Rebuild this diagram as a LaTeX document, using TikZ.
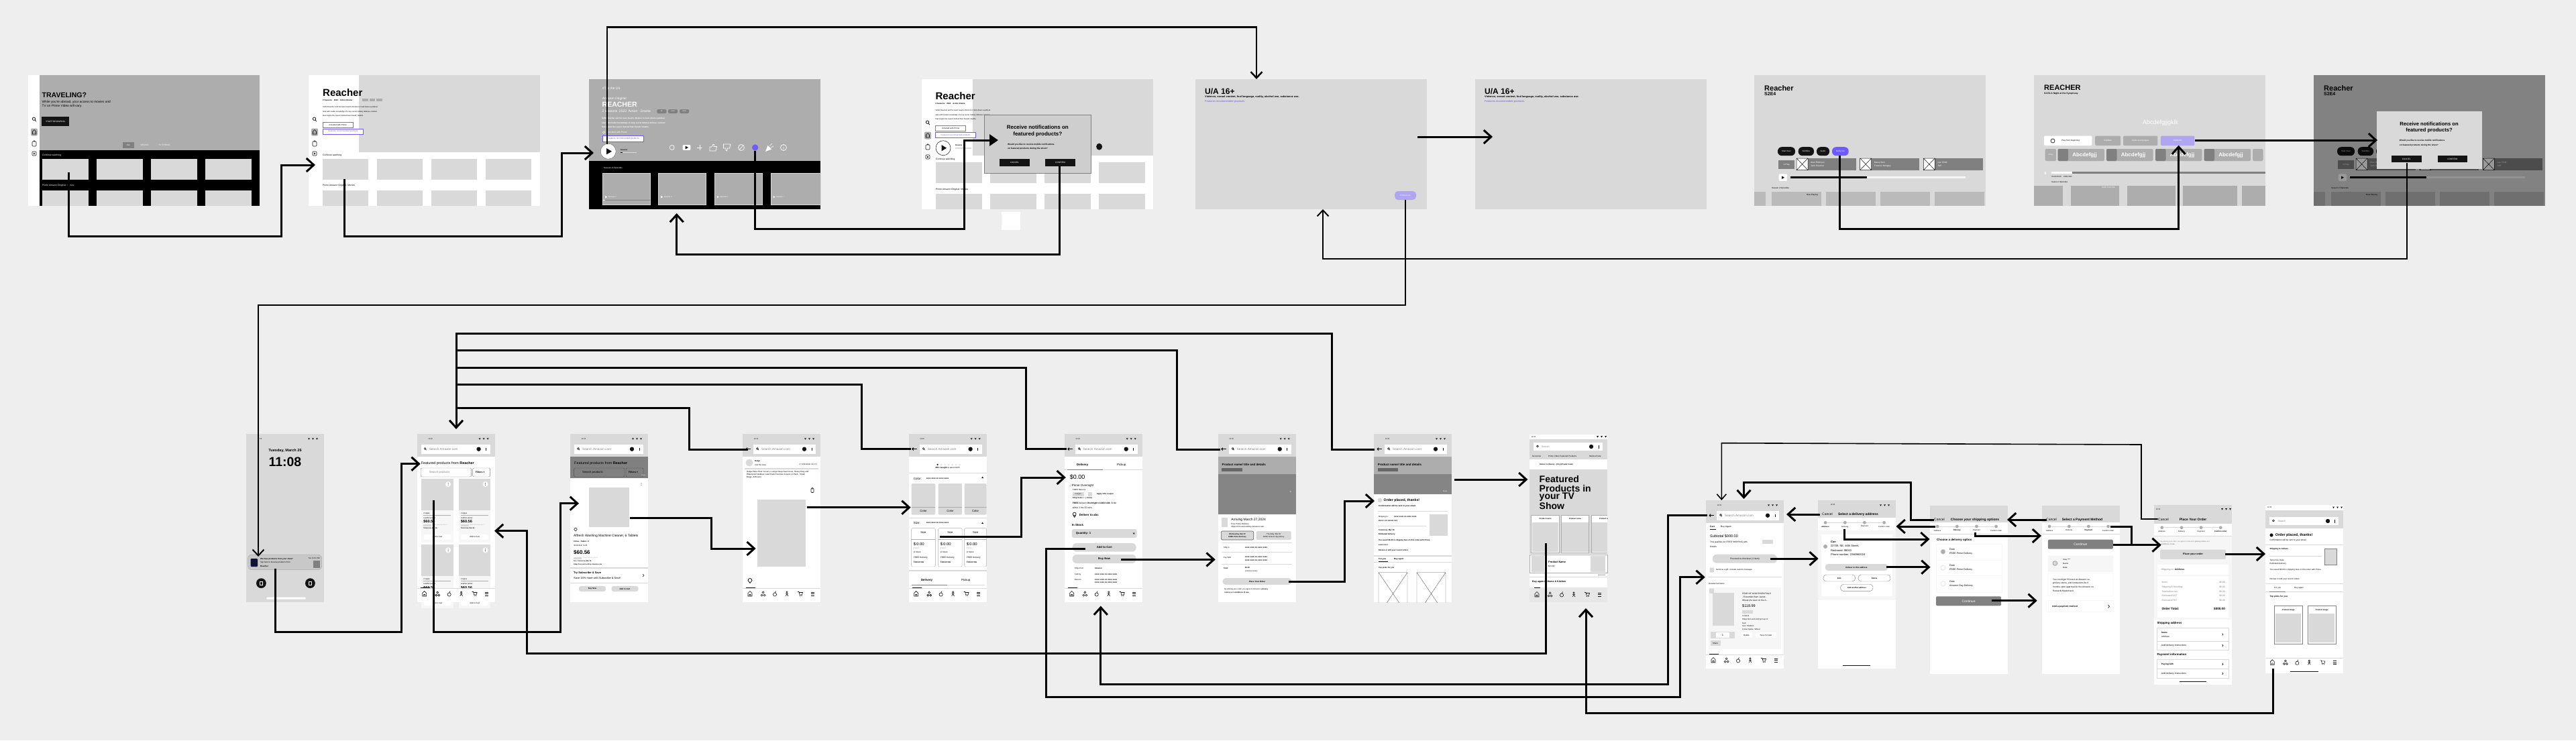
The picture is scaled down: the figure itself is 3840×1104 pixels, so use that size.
\documentclass[tikz,border=0pt]{standalone}
\usepackage{fontspec}
\setmainfont{Liberation Sans}
\newfontfamily\symfont{DejaVu Sans}
\usetikzlibrary{arrows.meta}
\definecolor{pagebg}{HTML}{EEEEEE}
\definecolor{pale}{HTML}{D9D9D9}
\definecolor{mid}{HTML}{ADADAD}
\definecolor{dim}{HTML}{808080}
\definecolor{ink}{HTML}{141414}
\definecolor{faint}{HTML}{F6F6F6}
\definecolor{violet}{HTML}{6E5BFF}
\definecolor{lilac}{HTML}{AFA5F0}
\tikzset{
  flow/.style={line width=3pt,-{Straight Barb[length=11pt,width=20pt]}},
  thinflow/.style={line width=2pt,-{Straight Barb[length=9pt,width=17pt]}},
  wedgeflow/.style={line width=3pt,-{Triangle[length=13pt,width=17pt]}},
  wire/.style={line width=3pt},
  rule/.style={draw=pale,line width=1pt},
  icon/.style={draw=ink,line width=.6pt,fill=none},
  tl/.style={anchor=west,inner sep=0pt,font=\fontsize{#1}{#1}\selectfont},
  tlb/.style={anchor=west,inner sep=0pt,font=\bfseries\fontsize{#1}{#1}\selectfont},
  tc/.style={inner sep=0pt,font=\fontsize{#1}{#1}\selectfont},
  tcb/.style={inner sep=0pt,font=\bfseries\fontsize{#1}{#1}\selectfont},
  tr/.style={anchor=east,inner sep=0pt,font=\fontsize{#1}{#1}\selectfont},
  btn/.style={inner sep=0pt,fill=pale,rounded corners=3pt,font=\bfseries\fontsize{#1}{#1}\selectfont},
  darkbtn/.style={inner sep=0pt,fill=ink,text=white,minimum height=11pt,minimum width=45pt,font=\fontsize{3.2}{3.2}\selectfont},
  pics/statusmarks/.style={code={
    \foreach \x in {0,6,12} \fill[ink] (\x,-1.2) -- (\x+3,-1.2) -- (\x+1.5,1.2) -- cycle;
  }},
  pics/phonetop/.style={code={
    \fill[pale] (0,0) rectangle (116,34);
    \node[tc=2.6] (-time) at (20,7.5) {12:30};
    \pic (-st) at (92,7.5) {statusmarks};
    \fill[white] (#1,15.5) rectangle (109,30);
    \draw[icon] (#1+6,22) circle (1.4pt) (#1+7,23) -- (#1+8,24.2);
    \node[tl=4.6,text=dim] (-find) at (#1+12,22.7) {Search Amazon.com};
    \fill[ink] (92,22.7) ellipse (3.2pt and 3.2pt);
    \draw[icon] (103,20.5) -- (103,25);
  }},
  pics/phoneback/.style={code={
    \pic (-top) {phonetop=16};
    \draw[line width=.9pt,-{Straight Barb[length=2pt,width=4pt]}] (12,22.6) -- (4.5,22.6);
  }},
  pics/tabicons/.style={code={
    \draw[icon] (8,242) -- (8,237.5) -- (11,234.5) -- (14,237.5) -- (14,242) -- cycle (10,242) -- (10,239.5) -- (12,239.5) -- (12,242);
    \foreach \x/\y in {28.6/240.6,32.6/240.6,30.6/236.4} \draw[icon] (\x,\y) circle (1.5pt);
    \draw[icon] (48,239.5) circle (2.6pt) (48,236.9) -- (49.5,234.5);
    \draw[icon] (66,236) circle (1.2pt) (66,237.2) -- (66,239) -- (64,242) (66,239) -- (68,242) (64,238.4) -- (68,238.4);
    \draw[icon] (82,235.5) -- (84,235.5) -- (85,240) -- (88.5,240) -- (89.5,236.5) -- (84.3,236.5);
    \fill[ink] (85.5,241.5) circle (.6pt) (88,241.5) circle (.6pt);
    \foreach \y in {236,238.7,241.4} \draw[icon] (101.5,\y) -- (106.5,\y);
  }},
  pics/tabbar/.style={code={
    \fill[white] (0,230) rectangle (116,251);
    \draw[pale,line width=.4pt] (0,230) -- (116,230);
    \fill[ink] (5,229.3) rectangle (19,230.3);
    \pic (-ic) {tabicons};
  }},
  pics/sidebar/.style={code={
    \draw[icon,line width=.8pt] (-.5,-.8) circle (2.2pt) (1,.8) -- (2.8,3.2);
    \fill[mid,rounded corners=2pt] (-5,13.5) rectangle (5,24.5);
    \draw[icon] (-2.5,22) -- (-2.5,18) -- (0,15.5) -- (2.5,18) -- (2.5,22) -- cycle;
    \draw[icon,rounded corners=1pt] (-3,33) rectangle (3,40) (-1.2,33) -- (0,31) -- (1.2,33);
    \draw[icon,rounded corners=1pt] (-3,48) rectangle (3,54);
    \fill[ink] (-1,49.5) -- (1.5,51) -- (-1,52.5) -- cycle;
  }},
  pics/showinfo/.style={code={
    \node[tlb=15] (-title) at (0,0) {Reacher};
    \node[tlb=2.8] (-meta) at (0,11.4) {2 Seasons\quad 2023\quad Action Drama};
    \node[tl=2.7] (-d1) at (0,22.2) {S2E4 Reacher and his team head to Boston to track down a political};
    \node[tl=2.7] (-d2) at (0,28.6) {aide with insider knowledge of a top secret military defense contract};
    \node[tl=2.7] (-d3) at (0,34.8) {that maybe the reason behind their friends' deaths.};
    \node[tl=3,draw=dim,line width=.4pt,fill=white,minimum width=45pt,minimum height=8pt,inner xsep=1.5pt] (-prime) at (0,48.4) {Included with Prime};
    \node[tl=3,draw=violet,line width=.4pt,fill=white,text=violet,minimum width=60pt,minimum height=8pt,inner xsep=1.5pt] (-feat) at (0,58.4) {Features recommended products};
  }},
  pics/stepper/.style={code={
    \draw[pale,line width=.5pt] (11,0) -- (98.6,0);
    \foreach \x/\l [count=\i] in {11/Address,40.3/Delivery,69.4/Payment,98.6/Confirm order} {
      \fill[mid] (\x,0) circle (2.4pt);
      \node[tc=2.8] (-l\i) at (\x,6) {\ifnum\i=#1\bfseries\fi \l};
    }
  }},
  pics/castview/.style={code={
    \fill[pale] (0,0) rectangle (345,195);
    \node[tlb=11] (-title) at (15,19.7) {Reacher};
    \node[tlb=7] (-ep) at (15,28) {S2E4};
    \foreach \a/\b/\l/\c [count=\i] in {35/61/Start Over/ink,65.7/89/Subtitles/ink,93/112/Audio/ink,116/140.7/Notify me/violet}
      \node[tc=3,fill=\c,text=white,rounded corners=6pt,minimum height=13pt,minimum width=\b pt-\a pt] (-c\i) at ({(\a+\b)/2},113.7) {\l};
    \node[tc=3.2,fill=dim,text=white,minimum width=24pt,minimum height=13pt] (-xplay) at (48.2,133.2) {X-Play};
    \foreach \a/\l/\m [count=\i] in {63/Alan Ritchson/Jack Reacher,157.7/Maria Sten/Frances Neagley,252.3/Lee Child/Self} {
      \fill[dim] (\a,124) rectangle (\a+88.7,141.7);
      \fill[white] (\a,124) rectangle (\a+17,141.7);
      \draw[ink,line width=.5pt] (\a,124) rectangle (\a+17,141.7) (\a,124) -- (\a+17,141.7) (\a,141.7) -- (\a+17,124);
      \node[tl=3.3,text=white] (-a\i) at (\a+21,130) {\l};
      \node[tl=3.3,text=white] (-b\i) at (\a+21,135.7) {\m};
    }
    \fill[white,rounded corners=2pt] (36.7,147.3) rectangle (49,158);
    \fill[ink] (41,150.5) -- (45,152.7) -- (41,155) -- cycle;
    \fill[faint] (54,150.7) rectangle (315,153.7);
    \fill[black] (54,150.7) rectangle (168,153.7);
    \node[tl=3] (-eps) at (26,168.3) {Season 2 Episodes};
    \foreach \a/\b in {0/17,26/100,107/180.7,188/261.7,269/343} \fill[mid!70!pale] (\a,174) rectangle (\b,194.7);
    \node[tr=3] (-now) at (95,179) {Now Playing};
  }}
}
\begin{document}
\begin{tikzpicture}[x=1pt,y=-1pt]
\useasboundingbox (0,0) rectangle (3840,1104);
\fill[pagebg] (0,0) rectangle (3840,1104);

% tv screens, top row
\fill[white] (42,112) rectangle (386.5,307);
\fill[mid] (59,112) rectangle (386.5,224);
\fill[black] (59,224) rectangle (386.5,307);
\foreach \x in {63,143.5,224.5,305.5} {
  \fill[pale] (\x,237) rectangle (\x+69,268);
  \fill[pale] (\x,284) rectangle (\x+69,307);
}
\pic (s1side) at (51,178) {sidebar};
\node[tlb=10.5] (s1title) at (62.5,142) {TRAVELING?};
\node[tl=4.8] (s1a) at (62.5,152.3) {While you're abroad, your access to movies and};
\node[tl=4.8] (s1b) at (62.5,158.7) {TV on Prime Video will vary.};
\node[tc=3.2,fill=ink,text=white,minimum width=40.5pt,minimum height=13.7pt] (s1start) at (82.7,181) {START BROWSING};
\node[tc=3.2,fill=dim,text=white,minimum width=17pt,minimum height=9.5pt] (s1all) at (191.5,216.3) {ALL};
\node[tc=3.2,text=white] (s1mov) at (215.6,216.3) {MOVIES};
\node[tc=3.2,text=white] (s1tv) at (245,216.3) {TV SHOWS};
\node[tl=3.4,text=white] (s1cont) at (63,232) {Continue watching};
\node[tl=3.4,text=white] (s1orig) at (63,277) {Prime Amazon Original: Series};

\fill[white] (460,112) rectangle (805,307);
\fill[pale] (535,112) rectangle (805,226.7);
\foreach \x in {481,562,643,724} {
  \fill[pale] (\x,237) rectangle (\x+68,268);
  \fill[pale] (\x,284) rectangle (\x+68,307);
}
\pic (s2side) at (469,178) {sidebar};
\pic (s2info) at (481,137.7) {showinfo};
\foreach \x in {540,550.5,561} \fill[mid] (\x,146.8) rectangle (\x+8.5,151.2);
\node[tl=3.4] (s2cont) at (481,232) {Continue watching};
\node[tl=3.4] (s2orig) at (481,277) {Prime Amazon Original: Movies};

\fill[mid] (878,118) rectangle (1223,240);
\fill[black] (878,240) rectangle (1223,312);
\node[tl=4.8,text=white] (s3rank) at (898,132) {\#7 in the US};
\node[tl=4.8,text=white] (s3orig) at (898,147) {Amazon Original};
\node[tlb=10.5,text=white] (s3title) at (897.5,156) {REACHER};
\node[tl=5,text=white] (s3meta) at (897.5,166) {2 seasons\enspace 2023\enspace Action - Drama};
\foreach \x/\l [count=\i] in {986.3/4K/UHD,1003.2/UHD,1020/HDR}
  \node[tc=2.4,fill=dim,text=white,rounded corners=1.5pt,minimum width=14pt,minimum height=6pt] (s3chip\i) at (\x,166) {\l};
\node[tl=2.9,text=white,font=\bfseries\fontsize{2.9}{2.9}\selectfont] (s3d1) at (897,176.7) {S2E4 Reacher and his team head to Boston to track down a political};
\node[tl=2.9,text=white,font=\bfseries\fontsize{2.9}{2.9}\selectfont] (s3d2) at (897,183.3) {aide with insider knowledge of a top secret military defense contract};
\node[tl=2.9,text=white,font=\bfseries\fontsize{2.9}{2.9}\selectfont] (s3d3) at (897,189.7) {that maybe the reason behind their friends' deaths.};
\draw[white,line width=.5pt] (900,197.3) circle (1.7pt);
\node[tl=3.4,text=white] (s3prime) at (905,197.3) {Included with Prime};
\node[tl=3.2,draw=violet,line width=.4pt,fill=white,text=violet,minimum width=60.7pt,minimum height=8.7pt,inner xsep=1.5pt] (s3feat) at (898.3,206.7) {Features recommended products};
\fill[white] (906.7,225.7) circle (11.5pt);
\draw[mid!70!black,line width=.5pt] (906.7,225.7) circle (11.5pt);
\fill[ink] (904,221) -- (912,225.7) -- (904,230.4) -- cycle;
\node[tlb=2.6] (s3res) at (925,223.3) {Resume};
\fill[pale] (925,226.5) rectangle (949,228);
\fill[ink] (925,226.5) rectangle (928,228);
\draw[white,line width=.7pt] (1001.7,220) circle (3.5pt);
\draw[white,line width=.7pt,fill=white,rounded corners=1pt] (1018,216.5) rectangle (1029,223.5);
\fill[ink] (1021.5,217.5) -- (1026,220) -- (1021.5,222.5) -- cycle;
\draw[white,line width=.5pt] (1039,220) -- (1047,220) (1043,216) -- (1043,224);
\draw[white,line width=.7pt] (1058,219) -- (1061,219) -- (1063,215) -- (1064.5,215.5) -- (1064,218.5) -- (1068.5,218.5) -- (1067,225) -- (1058,225) -- cycle;
\draw[white,line width=.7pt] (1078.5,215) -- (1089,215) -- (1087.5,221) -- (1084.5,221) -- (1083.5,225) -- (1082,224) -- (1082,221) -- (1078.5,221) -- cycle;
\draw[white,line width=.7pt] (1105,220) circle (4.5pt) (1102.5,222.5) -- (1107.5,217.5);
\fill[violet] (1125.7,220) circle (4.7pt);
\fill[white] (1141,226) -- (1144.5,217) -- (1150,222.5) -- cycle;
\draw[white,line width=.6pt] (1147,218) -- (1151,214) (1149,220) -- (1153,218);
\draw[white,line width=.7pt] (1168,220) circle (4.5pt) (1168,219) -- (1168,222.5);
\fill[white] (1168,217.5) circle (.5pt);
\node[tl=3,text=white] (s3eps) at (900,250.7) {Seasons \& Episodes};
\foreach \x/\w/\l [count=\i] in {898.7/70.6/4,981.7/70.6/5,1065.3/70.7/6,1149/74/7} {
  \draw[pale,fill=mid,line width=.5pt] (\x,258.7) rectangle (\x+\w,305);
  \fill[white] (\x+3.5,292) -- (\x+6.5,293.7) -- (\x+3.5,295.4) -- cycle;
  \node[tl=2.6,text=white] (s3ep\i) at (\x+8,293.7) {Episode \l};
}
\fill[dim] (898.7,297.7) rectangle (969.3,299);
\fill[white] (898.7,297.7) rectangle (902,299);

\fill[white] (1374,118) rectangle (1719,312);
\fill[pale] (1450,118) rectangle (1719,231.7);
\foreach \x in {1395,1476,1557,1638} {
  \fill[pale] (\x,242.3) rectangle (\x+69,273.3);
  \fill[pale] (\x,289) rectangle (\x+69,312);
}
\pic (s4side) at (1383,183) {sidebar};
\pic (s4info) at (1394.4,143) {showinfo};
\draw[ink,line width=.5pt,fill=white] (1406,220.7) ellipse (11pt and 11pt);
\fill[ink] (1403.5,216) -- (1411,220.7) -- (1403.5,225.4) -- cycle;
\node[tlb=2.6] (s4res) at (1424,217) {Resume};
\fill[pale] (1424,220) rectangle (1448,221.5);
\node[tl=3.4] (s4cont) at (1395,237.3) {Continue watching};
\node[tl=3.4] (s4orig) at (1395,282.7) {Prime Amazon Original: Movies};
\fill[ink] (1638.6,218.7) ellipse (4.5pt and 5pt);
\fill[white] (1493,316) rectangle (1521,342.7);
\draw[dim,fill=pale!95!black,line width=.6pt] (1467.7,171.3) rectangle (1626,258.3);
\node[tcb=8] (s4ask) at (1546.8,190) {Receive notifications on};
\node[tcb=8] (s4ask2) at (1546.8,200.3) {featured products?};
\node[tlb=3.2] (s4q) at (1502,215.7) {Would you like to receive mobile notifications};
\node[tlb=3.2] (s4q2) at (1502,222) {on featured products during the show?};
\node[darkbtn] (s4no) at (1512.5,242.7) {CANCEL};
\node[darkbtn] (s4ok) at (1580.5,242.7) {CONFIRM};

\fill[pale] (1781.5,118) rectangle (2126.5,312);
\fill[pale] (2198.6,118) rectangle (2543.6,312);
\foreach \x/\n in {1796/s5,2213/s6} {
  \node[tlb=12] (\n age) at (\x,136) {U/A 16+};
  \node[tlb=3.9] (\n warn) at (\x,144.7) {Violence, sexual content, foul language, nudity, alcohol use, substance use.};
  \node[tl=4,text=violet] (\n feat) at (\x,151) {Features recommended products.};
}
\node[tc=2.8,fill=lilac,text=white,rounded corners=5pt,minimum width=32pt,minimum height=13pt] (s5pill) at (2095,291.5) {Product icon};

\pic (s7) at (2615,112) {castview};

\fill[pale] (3032,112) rectangle (3377,307);
\node[tlb=11] (s8title) at (3047,131) {REACHER};
\node[tlb=3.4] (s8ep) at (3047,139.3) {S2 E4 A Night at the Symphony};
\node[tc=9,text=white] (s8cap) at (3220.5,183) {Abcdefgjjgklk};
\node[tc=3,fill=white,rounded corners=2pt,minimum width=71.5pt,minimum height=14.5pt,text depth=0pt] (s8play) at (3082.7,209.8) {\hspace{8pt}Play from beginning};
\draw[ink,line width=.7pt] (3060,210) circle (3pt);
\node[tc=3,fill=mid,text=white,rounded corners=2pt,minimum width=38pt,minimum height=14.5pt] (s8sub) at (3142.2,209.8) {Subtitles};
\node[tc=3,fill=mid,text=white,rounded corners=2pt,minimum width=51.4pt,minimum height=14.5pt] (s8aud) at (3190.7,209.8) {Audio \& languages};
\node[tc=3,fill=lilac,text=white,rounded corners=2pt,minimum width=50.5pt,minimum height=14.5pt] (s8note) at (3246.2,209.8) {Notify Me};
\node[tc=2.6,fill=mid,text=white,rounded corners=2pt,minimum width=16.4pt,minimum height=18pt] (s8x) at (3056.8,231) {X-Play};
\foreach \x [count=\i] in {3067.5,3140,3213,3285.5} {
  \fill[mid,rounded corners=2pt] (\x,222) rectangle (\x+69.5,240);
  \fill[dim,rounded corners=2pt] (\x,222) rectangle (\x+15.5,240);
  \node[tcb=8,text=white] (s8c\i) at (\x+40,231) {Abcdefgjj};
}
\fill[mid,rounded corners=2pt] (3358,222) rectangle (3373.5,240);
\fill[white] (3047.5,256) rectangle (3048.4,260) (3049.2,256) rectangle (3050.1,260);
\fill[dim] (3058.4,256.3) rectangle (3377,258.5);
\fill[white] (3058.4,256.3) rectangle (3089,258.5);
\node[tl=2.8] (s8time) at (3058,263) {03:24/45:46\quad UHD HDR};
\node[tl=2.8] (s8eps) at (3058,271.3) {Season 2 Episodes};
\foreach \a/\b in {3032/3075,3087/3159,3171/3243,3254/3335,3342/3377} \fill[mid] (\a,276.7) rectangle (\b,307);
\node[tr=2.8,text=white] (s8now) at (3153,279.8) {NOW PLAYING};

\pic (s9) at (3449,112) {castview};
\fill[black,opacity=.4] (3449,112) rectangle (3794,307);
\fill[pale] (3543,166) rectangle (3700,252.3);
\node[tcb=7.6] (s9ask) at (3621,184.3) {Receive notifications on};
\node[tcb=7.6] (s9ask2) at (3621,195) {featured products?};
\node[tlb=3.1] (s9q) at (3576.7,210) {Would you like to receive mobile notifications};
\node[tlb=3.1] (s9q2) at (3576.7,216.7) {on featured products during the show?};
\node[darkbtn,minimum height=10pt,minimum width=44.6pt] (s9no) at (3587.3,237) {CANCEL};
\node[darkbtn,minimum height=10pt,minimum width=44.6pt] (s9ok) at (3655.8,237) {CONFIRM};

% phones, middle row
\begin{scope}[shift={(367,647)}]
  \fill[pale] (0,0) rectangle (116,251);
  \node[tc=2.6] (p1time) at (20,7.5) {12:30};
  \pic (p1st) at (92,7.5) {statusmarks};
  \node[tcb=5.6] (p1date) at (58,24.7) {Tuesday, March 26};
  \node[tcb=19.4] (p1clock) at (58,42) {11:08};
  \draw[mid,fill=pale!92!black,rounded corners=6pt,line width=.5pt] (2.5,180) rectangle (112.7,202.7);
  \fill[ink!85!blue,rounded corners=1pt] (6.6,186) rectangle (17,198);
  \node[tlb=2.9] (p1a) at (21,186.7) {We have products from your show!};
  \node[tl=3] (p1b) at (21,192) {Tap here to browse products from};
  \node[tlb=3] (p1c) at (21,197) {Reacher};
  \node[tr=2.8] (p1d) at (110,186) {Tue 11:02 AM};
  \fill[dim] (99.5,189) rectangle (110,200);
  \foreach \x in {22.4,95.4} {
    \fill[ink] (\x,222.7) circle (7.4pt);
    \draw[white,line width=.5pt] (\x-2,220) rectangle (\x+2,225.5);
  }
  \fill[white,rounded corners=1.5pt] (30,243.7) rectangle (89,246.7);
\end{scope}

\begin{scope}[shift={(621.6,647)}]
  \fill[white] (0,0) rectangle (116,251);
  \pic (p2top) {phonetop=6};
  \node[tl=5.4] (p2head) at (6,44) {Featured products from \textbf{Reacher}};
  \draw[dim,rounded corners=2pt,line width=.4pt] (5.6,51) rectangle (81,64);
  \node[tl=4.2,text=dim] (p2find) at (18,57.5) {Search products};
  \draw[dim,rounded corners=2pt,line width=.4pt] (83,51) rectangle (109,64);
  \node[tlb=3.6] (p2filt) at (87,57.5) {Filters {\symfont ▾}};
  \foreach \x/\dy [count=\i] in {6.5/0,62/0,6.5/98.4,62/98.4} {
    \fill[faint] (\x,67+\dy) rectangle (\x+47.5,161.7+\dy);
    \fill[pale] (\x,67+\dy) rectangle (\x+47.5,113.7+\dy);
    \fill[white] (\x+40,75+\dy) circle (4pt);
    \foreach \d in {-1,0,1} \fill[ink] (\x+40,75+\dy+1.6*\d) circle (.45pt);
    \node[tl=2.8] (p2s\i) at (\x+3,118.7+\dy) {2 styles};
    \fill[mid] (\x+3,121+\dy) rectangle (\x+44,122+\dy);
    \node[tl=2.8] (p2l\i) at (\x+3,125.5+\dy) {Leather jacket};
    \node[tlb=5.6] (p2p\i) at (\x+3,131+\dy) {\$60.56};
    \fill[pale] (\x+3,134.5+\dy) rectangle (\x+15,137.5+\dy);
    \node[tl=2.2,text=mid] (p2o\i) at (\x+16,136+\dy) {FREE One-Day Item 2};
    \node[tlb=2.4] (p2d\i) at (\x+3,141+\dy) {Tomorrow, Mar 26};
    \node[tc=2.9,fill=white,rounded corners=3pt,minimum width=41pt,minimum height=8pt] (p2a\i) at (\x+24,153.7+\dy) {Add to Cart};
  }
  \pic (p2tab) {tabbar};
\end{scope}

\begin{scope}[shift={(850,647)}]
  \fill[white] (0,0) rectangle (116,251);
  \pic (p3top) {phonetop=6};
  \fill[dim] (0,33.7) rectangle (116,66);
  \node[tl=5.4] (p3head) at (6,44) {Featured products from \textbf{Reacher}};
  \draw[black!70,rounded corners=2pt,line width=.4pt] (5.6,51) rectangle (81,64);
  \node[tl=4.2] (p3find) at (18,57.5) {Search products};
  \draw[black!70,rounded corners=2pt,line width=.4pt] (83,51) rectangle (109,64);
  \node[tlb=3.6] (p3filt) at (87,57.5) {Filters {\symfont ▾}};
  \node[tl=2.4,text=white] (p3save) at (106,61.5) {Save};
  \foreach \d in {-1,0,1} \fill[ink] (106,75+1.6*\d) circle (.45pt);
  \fill[pale] (28,80) rectangle (88,139);
  \draw[icon] (8,145) -- (5.8,142.5) arc (180:0:2.2pt) -- cycle;
  \node[tl=4.9] (p3name) at (5,152.7) {Affresh Washing Machine Cleaner, 6 Tablets};
  \node[tlb=2.8] (p3var) at (5,160) {Citrus - Tablet - 6};
  \node[tl=2.8] (p3star) at (5,166.7) {{\symfont ★★★★★} 74.95};
  \node[tlb=8] (p3price) at (5,176.7) {\$60.56};
  \fill[pale] (5,183.5) rectangle (17,186.5);
  \node[tl=2.2,text=mid] (p3one) at (19,185) {FREE One-Day Item 2};
  \node[tlb=2.4] (p3tom) at (5,190) {for + Tomorrow, Mar 26};
  \node[tlb=2.4] (p3ship) at (5,195) {Ships from and sold by Amazon.com};
  \fill[pale] (0,199.3) rectangle (116,200.7);
  \node[tlb=4] (p3try) at (5,207.7) {Try Subscribe \& Save};
  \node[tl=4] (p3sav) at (5,215) {Save 15\% more with Subscribe \& Save};
  \draw[icon] (108,209) -- (110,211) -- (108,213);
  \fill[pale] (0,221.5) rectangle (116,222.5);
  \node[btn=2.9,minimum width=40pt,minimum height=8pt] (p3buy) at (33,231) {Buy Now};
  \node[btn=2.9,minimum width=40pt,minimum height=8pt] (p3add) at (81.5,231) {Add to Cart};
\end{scope}

\begin{scope}[shift={(1107,647)}]
  \fill[white] (0,0) rectangle (116,251);
  \pic (p4top) {phoneback};
  \fill[pale] (10,43) circle (5.5pt);
  \node[tlb=2.9] (p4sell) at (18,40.7) {Helga};
  \node[tl=2.8] (p4visit) at (18,46) {Visit the store};
  \node[tr=2.8] (p4rate) at (111,46) {4.7 {\symfont ★★★★★} 21,171};
  \fill[pale] (3,51.4) rectangle (113,52.6);
  \node[tl=3] (p4a) at (6,56.6) {Helga Patio Chair Covers, Lounge Deep Seat Cover, Heavy Duty and};
  \node[tl=3] (p4b) at (6,60.7) {Waterproof Outdoor Lawn Patio Furniture Covers (2 Pack - Small,};
  \node[tl=3] (p4c) at (6,65) {Beige, \& Brown)};
  \draw[icon,rounded corners=1pt] (102,81) rectangle (106,87.5) (104,83) -- (104,79.5);
  \fill[pale] (22,98.4) rectangle (94,197.6);
  \draw[icon,line width=.8pt] (11,222.5) -- (8,218.5) arc (180:0:3pt) -- cycle;
  \pic (p4tab) {tabbar};
\end{scope}

\begin{scope}[shift={(1354.6,647)}]
  \fill[white] (0,0) rectangle (116,251);
  \pic (p5top) {phoneback};
  \foreach \i in {0,...,6} \draw[pale,line width=.4pt] (43+5.5*\i,45.9) circle (1.2pt);
  \fill[ink] (43,45.9) circle (1.2pt);
  \node[tc=3] (p5bought) at (58,51) {\textbf{200+ bought} in past month};
  \draw[rule] (0,58.5) -- (116,58.5);
  \node[tl=4.5] (p5col) at (7,66.6) {Color:};
  \node[tlb=3] (p5colx) at (26,66.6) {xxxx xxxx xx xxxx xxxx};
  \fill[ink] (108.5,66) -- (110,63.6) -- (111.5,66) -- cycle;
  \foreach \x/\e [count=\i] in {4/39.7,44/79.6,83/116} {
    \fill[pale,rounded corners=2pt] (\x,74) rectangle (\e,120.6);
    \fill[mid] (\x,109) rectangle (\e,110);
    \node[tc=4.2] (p5c\i) at ({(\x+\e)/2},115) {Color};
    \draw[mid,rounded corners=2pt,line width=.4pt] (\x,140.6) rectangle (\e,198);
    \draw[mid,line width=.4pt] (\x,157.6) -- (\e,157.6);
    \node[tc=4.2] (p5s\i) at ({(\x+\e)/2},146.5) {Size};
    \node[tl=6] (p5v\i) at (\x+3,164) {\$\,0.00};
    \node[tl=3,text=mid] (p5r\i) at (\x+3,170) {Prime};
    \node[tl=3] (p5k\i) at (\x+3,176) {In Stock};
    \node[tl=3.2] (p5f\i) at (\x+3,185) {FREE Delivery};
    \node[tlb=3.2] (p5t\i) at (\x+3,191) {Tomorrow};
  }
  \draw[rule] (0,125) -- (116,125);
  \node[tl=4.5] (p5size) at (7,133) {Size:};
  \node[tlb=3] (p5sizex) at (26,133) {xxxx xxxx xx xxxx xxxx};
  \fill[ink] (108.5,134) -- (110,131.6) -- (111.5,134) -- cycle;
  \fill[pale] (0,202.5) rectangle (116,204.5);
  \node[tcb=4.4] (p5del) at (27,218) {Delivery};
  \node[tc=4.4] (p5pick) at (85,218) {Pickup};
  \fill[pale] (4,225) rectangle (113,226);
  \fill[dim] (4,225) rectangle (57,226.2);
  \pic (p5tab) {tabbar};
\end{scope}

\begin{scope}[shift={(1586.7,647)}]
  \fill[white] (0,0) rectangle (116,251);
  \pic (p6top) {phoneback};
  \node[tcb=4.4] (p6del) at (27,45.9) {Delivery};
  \node[tc=4.4] (p6pick) at (85,45.9) {Pickup};
  \fill[pale] (0,53) rectangle (116,54.4);
  \fill[dim] (4,52.8) rectangle (57,54.4);
  \node[tl=9] (p6price) at (8,64.7) {\$0.00};
  \draw[mid,line width=.5pt] (7.5,77) -- (8.5,78.3) -- (10,75.5);
  \node[tl=4.5] (p6prime) at (11,77) {Prime Overnight};
  \node[tl=3] (p6ret) at (12,83) {FREE Returns};
  \node[tc=2.6,fill=pale,minimum width=17pt,minimum height=6pt] (p6coup) at (20.5,89.5) {Coupon};
  \fill[pale] (35,87) rectangle (41,92.5);
  \node[tlb=2.8] (p6app) at (48,89.8) {Apply 10\% coupon};
  \node[tlb=2.8] (p6shop) at (12,96) {Shop items >\enspace|\enspace Terms};
  \node[tl=3.3] (p6fr) at (12,103.6) {\textbf{FREE} delivery \textbf{Overnight 4 AM-8 AM.} Order};
  \node[tl=3.3] (p6wi) at (12,110) {within 2 hrs 55 mins};
  \draw[icon,line width=.7pt] (15,119.5) circle (2.4pt) (13,121) -- (15,124.5) -- (17,121);
  \node[tlb=4.4] (p6to) at (22,120.6) {Deliver to abc};
  \node[tlb=4.4] (p6st) at (11,136) {In Stock};
  \fill[pale,rounded corners=3pt] (11,142) rectangle (108,155);
  \node[tlb=4.2] (p6qtyt) at (17,148.5) {Quantity: 1};
  \fill[ink] (102,147.5) -- (105,147.5) -- (103.5,150) -- cycle;
  \node[btn=4.2,rounded corners=6pt,minimum width=95pt,minimum height=12.7pt] (p6add) at (59.5,169.3) {Add to Cart};
  \node[btn=4.2,rounded corners=6pt,minimum width=95pt,minimum height=13pt] (p6buy) at (59.5,186.5) {Buy Now};
  \node[tl=2.8] (p6f) at (15,201) {Ships from};
  \node[tlb=2.8] (p6g) at (45,201) {Amazon};
  \node[tl=2.8] (p6h) at (15,209.4) {Sold by};
  \node[tlb=3] (p6i) at (45,209.4) {xxxx xxxx xx xxxx xxxx};
  \node[tl=2.8] (p6j) at (15,218) {Returns};
  \node[tlb=3] (p6k) at (45,218) {xxxx xxxx xx xxxx xxxx};
  \node[tlb=3] (p6l) at (45,222) {xxxx xxxx xx xxxx xxxx};
  \pic (p6tab) {tabbar};
\end{scope}

\begin{scope}[shift={(1815.7,647)}]
  \fill[white] (0,0) rectangle (116,251);
  \pic (p7top) {phoneback};
  \fill[mid] (0,34.3) rectangle (116,60.3);
  \node[tlb=4.5] (p7name) at (5.6,45.7) {Product name/ title and details};
  \fill[dim!80!black] (5.6,51) rectangle (36,56);
  \fill[dim!90!mid] (0,60.3) rectangle (116,120);
  \node[tc=3.4,text=white] (p7x) at (108,86) {X};
  \fill[pale] (5,125) rectangle (14,139);
  \node[tl=5] (p7arr) at (19.4,128) {Arriving March 27,2024};
  \node[tl=3] (p7free) at (19.4,134.6) {Free Prime Delivery};
  \node[tl=3] (p7from) at (19.4,138.6) {Ships from and sold by Amazon.com};
  \draw[ink!70,fill=pale,rounded corners=2pt,line width=.6pt] (4.6,145) rectangle (53,158);
  \node[tcb=2.7,align=center] (p7w) at (28.8,151.5) {Wednesday, Mar 27\\[1.4pt]FREE Prime Delivery};
  \fill[pale,rounded corners=2pt] (57,145) rectangle (109,158);
  \node[tc=2.7,align=center] (p7t) at (83,151.5) {Thursday, Mar 28\\[1.4pt]FREE Amazon day dlivery};
  \foreach \y in {162,176.7,194} \draw[rule,line width=.7pt] (5,\y) -- (110,\y);
  \node[tl=2.8] (p7ship) at (8,169.3) {Ship to};
  \node[tlb=3] (p7shipx) at (40,169.3) {xxxx xxxx xx xxxx xxxx};
  \node[tl=2.8] (p7pay) at (8,185) {Pay With};
  \node[tlb=3] (p7payx) at (40,184) {xxxx xxxx xx xxxx xxxx};
  \node[tlb=3] (p7payy) at (40,189) {xxxx xxxx xx xxxx xxxx};
  \node[tlb=2.8] (p7tot) at (8,200) {Total};
  \node[tlb=2.8] (p7val) at (40,200) {\$0.00};
  \node[tl=2.6] (p7inc) at (40,204.5) {(inclusive taxes)};
  \node[btn=3,rounded corners=5pt,minimum width=103.4pt,minimum height=10pt] (p7place) at (58.3,220) {Place Your Order};
  \node[tl=2.7] (p7by) at (9.5,232) {By placing your order, you agree to Amazon's \textbf{privacy}};
  \node[tl=2.7] (p7no) at (9.5,236.7) {\textbf{notice} and \textbf{conditions of use.}};
\end{scope}

\begin{scope}[shift={(2048,647)}]
  \begin{scope}
    \clip (0,0) rectangle (116,251);
    \fill[white] (0,0) rectangle (116,251);
    \pic (p8top) {phoneback};
    \fill[mid] (0,34.3) rectangle (116,60.3);
    \node[tlb=4.5] (p8name) at (5.6,45.7) {Product name/ title and details};
    \fill[dim!80!black] (5.6,51) rectangle (36,56);
    \fill[dim!90!mid] (0,60.3) rectangle (116,89.7);
    \node[tl=2.6,text=white] (p8done) at (103,85.2) {Done};
    \fill[pale] (9,99) circle (3.4pt);
    \node[tlb=5.2] (p8okay) at (14.5,99) {Order placed, thanks!};
    \node[tlb=3] (p8conf) at (6.6,107.7) {Confirmation will be sent to your email.};
    \draw[rule] (6,115) -- (110,115);
    \node[tl=2.8] (p8ship) at (6.6,123.7) {Shipping to:};
    \node[tlb=3] (p8shipx) at (30,123.7) {xxxx xxxx xx xxxx xxxx};
    \node[tlb=3] (p8shipy) at (6.6,130) {xxxx x xx xxxxx xxx};
    \fill[pale] (82.6,120) rectangle (109.6,151.7);
    \draw[rule] (6,137) -- (78,137);
    \node[tlb=2.8] (p8tom) at (6.6,144) {Tomorrow, Mar 30};
    \node[tlb=2.8] (p8est) at (6.6,149.4) {Estimated delivery};
    \node[tlb=2.8] (p8sav) at (6.6,159) {You saved \$6.99 in shipping fees on this order with Prime.};
    \node[tlb=2.6] (p8lea) at (6.6,165.7) {Learn more};
    \node[tlb=2.8] (p8rev) at (6.6,174) {Review or edit your recent orders};
    \fill[pale] (0,181) rectangle (116,182.5);
    \node[tlb=3] (p8for) at (7,186.7) {For you};
    \node[tlb=3] (p8buy) at (30,186.7) {Buy again};
    \fill[pale] (0,191) rectangle (116,192);
    \fill[ink] (7,190) rectangle (21,191.2);
    \node[tlb=2.8] (p8pick) at (7,199.3) {Top picks for you};
    \foreach \x in {7,64} \draw[ink!70,line width=.4pt] (\x,206.7) rectangle (\x+43,270) (\x,206.7) -- (\x+43,270) (\x,270) -- (\x+43,206.7);
  \end{scope}
\end{scope}

\begin{scope}[shift={(2280,648)}]
  \fill[white] (0,0) rectangle (116,250);
  \fill[pale] (0,7) rectangle (116,37);
  \node[tc=2.6] (p9time) at (6,3.3) {12:30};
  \pic (p9st) at (100,3.3) {statusmarks};
  \fill[white] (6,11.7) rectangle (109,24);
  \draw[icon] (12,17.5) circle (1.4pt);
  \node[tl=3.6,text=dim] (p9find) at (18,18) {Search};
  \fill[ink] (92,18) circle (3.2pt);
  \draw[icon] (103,15.5) -- (103,20.5);
  \node[tl=3] (p9g) at (4,32.7) {Groceries};
  \node[tl=3] (p9h) at (28,32.7) {Prime Video Featured Products};
  \node[tl=3] (p9i) at (89,32.7) {Medical Care};
  \node[tlb=2.7] (p9to) at (15,44.7) {Deliver to (Name) - (City) (Postal Code)};
  \fill[pale] (0,51.7) rectangle (116,120);
  \node[tlb=14] (p9ln1) at (14.5,66.7) {Featured};
  \node[tlb=14] (p9ln2) at (14.5,80) {Products in};
  \node[tlb=14] (p9ln3) at (14.5,93) {your TV};
  \node[tlb=14] (p9ln4) at (14.5,106.3) {Show};
  \fill[pale] (0,120) rectangle (116,178);
  \begin{scope}
    \clip (0,118) rectangle (116,180);
    \foreach \x/\l [count=\i] in {2.5/Product name,47/Product name,92/Product name} {
      \draw[mid,fill=white,line width=.5pt] (\x,120) rectangle (\x+41.5,176);
      \fill[pale] (\x+1,131) rectangle (\x+40.5,175);
      \node[tcb=2.7] (p9c\i) at (\x+21,126) {\l};
    }
  \end{scope}
  \draw[mid,fill=white,line width=.6pt] (0,179) rectangle (116,206.7);
  \fill[pale] (3,181) rectangle (22,204.7);
  \fill[pale] (91,181) rectangle (113,204.7);
  \node[tlb=3.8] (p9pn) at (28,190) {Product Name};
  \node[tl=3] (p9pv) at (28,196) {\$21.64};
  \node[tr=2.2] (p9sp) at (113,210) {Sponsored};
  \fill[pale] (0,212) rectangle (116,213);
  \node[tlb=3.6] (p9again) at (4,220) {Buy again in Home \& Kitchen};
  \fill[pagebg!97!black] (0,228) rectangle (116,250);
  \fill[ink] (7,228) rectangle (16,229);
  \pic (p9ic) {tabicons};
\end{scope}

% cart steps, lower right
\begin{scope}[shift={(2543,746)}]
  \fill[white] (0,0) rectangle (116,251);
  \pic (c1top) {phoneback};
  \node[tlb=3.4] (c1cart) at (6,39.7) {Cart};
  \fill[ink] (5.5,43) rectangle (15,43.8);
  \node[tl=3.4] (c1again) at (22,39.7) {Buy Again};
  \node[tl=5.5] (c1sub) at (6,53.3) {Subtotal \$000.00};
  \node[tl=3.2] (c1free) at (6,62.3) {This qualifies for FREE SHIPPING with};
  \fill[pale] (84,58.5) rectangle (100,64.5);
  \node[tl=3.2] (c1det) at (6,69) {Details};
  \node[btn=3.4,rounded corners=6pt,minimum width=96pt,minimum height=13pt,font=\fontsize{3.4}{3.4}\selectfont] (c1go) at (58,87.2) {Proceed to checkout (1 item)};
  \fill[pale,rounded corners=1pt] (5.5,100.5) rectangle (12,107.5);
  \node[tl=3] (c1gift) at (15,104) {Send as a gift. Include custom message};
  \draw[rule] (3,114) -- (113,114);
  \node[tl=3] (c1des) at (4,124) {Deselect all items};
  \fill[faint] (4,130) rectangle (112,222);
  \fill[pale] (10,138) rectangle (41.5,186.7);
  \fill[pale,rounded corners=1pt] (5,131.5) rectangle (12,139);
  \node[tl=3.2] (c1a) at (54,139.3) {FEAR OF GOD ESSENTIALS};
  \node[tl=3.2] (c1b) at (54,144.6) {- Essentials Barn Jacket -};
  \node[tl=3.2] (c1c) at (54,150) {Wheat (As seen on the A...};
  \node[tl=5.5] (c1p) at (54,157.3) {\$118.99};
  \fill[pale] (54,163.5) rectangle (70,169);
  \node[tl=2.8] (c1d) at (54,172) {In Stock};
  \node[tl=2.8] (c1e) at (54,178) {Ships from and sold by Fear of};
  \node[tl=2.8] (c1f) at (54,183) {God};
  \node[tl=2.8] (c1g) at (54,187.3) {Size: Medium};
  \node[tl=2.8] (c1h) at (54,192) {Colour Name: Wheat};
  \fill[pale] (7,195.7) rectangle (43,205.7);
  \fill[white] (15,196.5) rectangle (35,205);
  \node[tc=4] (c1qty) at (25,200.7) {1};
  \node[tc=3,fill=white,minimum width=17pt,minimum height=8pt] (c1del) at (60.5,201) {Delete};
  \node[tc=3,fill=white,minimum width=31pt,minimum height=8pt] (c1save) at (89.5,201) {Save for later};
  \node[tc=3,fill=pale,minimum width=15pt,minimum height=8pt] (c1share) at (14,213) {Share};
  \pic (c1tab) {tabbar};
\end{scope}

\begin{scope}[shift={(2710,746)}]
  \fill[white] (0,0) rectangle (116,251);
  \fill[pale] (0,0) rectangle (116,25.7);
  \node[tc=2.6] (c2time) at (22,7) {12:30};
  \pic (c2st) at (92,7.5) {statusmarks};
  \node[tl=5] (c2can) at (6,21) {Cancel};
  \node[tcb=5] (c2head) at (60,21) {Select a delivery address};
  \pic (c2step) at (0,33.3) {stepper=1};
  \fill[pale] (0,44.6) rectangle (116,45.4);
  \fill[faint] (0,45.4) rectangle (116,149);
  \fill[white] (4.6,50.7) rectangle (111,143);
  \fill[mid] (11,69) circle (3pt);
  \node[tlb=4] (c2a) at (19,62) {Can};
  \node[tl=4] (c2b) at (19,68.7) {22709, NE, 46th Street,};
  \node[tl=4] (c2c) at (19,74.7) {Redmond- 98053};
  \node[tl=4] (c2d) at (19,81) {Phone number: 2366982024};
  \node[btn=3,rounded corners=4pt,minimum width=93pt,minimum height=10pt] (c2go) at (57.5,100) {Deliver to this address};
  \node[tcb=2.8,draw=dim,line width=.4pt,rounded corners=4.5pt,minimum width=47.6pt,minimum height=10pt] (c2edit) at (31.8,116) {Edit};
  \node[tcb=2.8,draw=dim,line width=.4pt,rounded corners=4.5pt,minimum width=48pt,minimum height=10pt] (c2del) at (84,116) {Delete};
  \node[tcb=2.8,draw=dim,line width=.4pt,rounded corners=4.5pt,minimum width=48.4pt,minimum height=10.3pt] (c2more) at (57.8,130.4) {Add another address};
  \fill[ink] (37,246.2) rectangle (78,247.4);
\end{scope}

\begin{scope}[shift={(2877,754)}]
  \fill[white] (0,0) rectangle (116,251);
  \fill[pale] (0,0) rectangle (116,25.3);
  \node[tl=5] (c3can) at (6,21) {Cancel};
  \node[tcb=5] (c3head) at (67,21) {Choose your shipping options};
  \pic (c3step) at (0,31) {stepper=2};
  \fill[pale] (0,41.5) rectangle (116,42.5);
  \node[tlb=4.4] (c3opt) at (10,51.3) {Choose a delivery option};
  \foreach \a/\b/\r/\l/\c [count=\i] in {57.3/81/68.7/FREE Prime Delivery/mid,81/104.6/92.7/FREE Prime Delivery/white,104.6/129/116.3/Amazon Day Delivery/white} {
    \draw[faint,line width=.7pt] (9,\a) rectangle (107,\b);
    \draw[pale,fill=\c,line width=.5pt] (19.4,\r) circle (3.6pt);
    \node[tl=3.6] (c3d\i) at (29,\r-3.4) {Date};
    \node[tl=3.6] (c3f\i) at (29,\r+3.3) {\l};
  }
  \node[tc=5,fill=dim,text=white,rounded corners=2pt,minimum width=97pt,minimum height=14pt] (c3go) at (57.5,142.3) {Continue};
\end{scope}

\begin{scope}[shift={(3044,754)}]
  \fill[white] (0,0) rectangle (116,251);
  \fill[pale] (0,0) rectangle (116,25.3);
  \node[tl=5] (c4can) at (6,21) {Cancel};
  \node[tcb=5] (c4head) at (60,21) {Select a Payment Method};
  \pic (c4step) at (0,31) {stepper=3};
  \fill[pale] (0,41.5) rectangle (116,42.5);
  \node[tc=5,fill=dim,text=white,rounded corners=2pt,minimum width=97pt,minimum height=14pt] (c4go) at (57.3,57.7) {Continue};
  \fill[faint,rounded corners=1pt] (9,74.3) rectangle (106,99);
  \draw[dim,fill=pale,line width=.5pt] (19.4,86) circle (3.4pt);
  \node[tl=3] (c4a) at (31,80) {Visa ****};
  \node[tl=3] (c4b) at (31,86.3) {Name};
  \node[tl=3] (c4c) at (31,92) {Date};
  \draw[faint,rounded corners=1pt,line width=.8pt] (9,101) rectangle (106,135);
  \node[tl=3.3] (c4d) at (16,110.3) {You could get 5\% back at Amazon.ca,};
  \node[tl=3.3] (c4e) at (16,116) {grocery stores, and restaurants for 6};
  \node[tl=3.3] (c4f) at (16,121.7) {months upon approval for the Amazon.ca};
  \node[tl=3.3] (c4g) at (16,127.3) {Rewards Mastercard.};
  \draw[faint,line width=.8pt] (9,141.7) rectangle (106,158);
  \node[tlb=3.4] (c4h) at (15,150.3) {Add a payment method};
  \draw[icon] (98.5,148) -- (100.5,150.3) -- (98.5,152.6);
\end{scope}

\begin{scope}[shift={(3211,753)}]
  \fill[white] (0,0) rectangle (116,268);
  \fill[pale] (0,0) rectangle (116,28);
  \node[tc=2.6] (c5time) at (6,6.3) {12:30};
  \pic (c5st) at (100,6.3) {statusmarks};
  \node[tl=5] (c5can) at (6,21.7) {Cancel};
  \node[tcb=5] (c5head) at (58,21.7) {Place Your Order};
  \pic (c5step) at (0.7,33.7) {stepper=4};
  \fill[pale] (0,45.7) rectangle (116,46.7);
  \fill[faint] (0,46.7) rectangle (116,171);
  \node[tl=2.5,text=dim] (c5by) at (9.7,55) {By placing your order, you agree to Amazon's \textbf{privacy notice} and};
  \node[tl=2.5,text=dim] (c5no) at (9.7,58.3) {\textbf{conditions of use.}};
  \node[btn=3.8,rounded corners=2pt,minimum width=98pt,minimum height=14.3pt] (c5place) at (58,73.8) {Place your order};
  \fill[white] (5,88.7) rectangle (111,104);
  \node[tl=3.6,text=dim] (c5sh) at (10.3,97) {Shipping to: \textbf{\textcolor{ink}{Address}}};
  \fill[white] (5,106) rectangle (111,167.7);
  \foreach \y/\l [count=\i] in {115.7/Items:,122.3/Shipping \& Handling:,129/Total before tax:,135.7/Estimated GST/HST:,142.5/Estimated PST/RST/QST:} {
    \node[tl=3.4,text=dim] (c5r\i) at (11.3,\y) {\l};
    \node[tr=3.4,text=dim] (c5v\i) at (106,\y) {\$0.00};
  }
  \node[tlb=4.6] (c5tot) at (11.3,155.3) {Order Total:};
  \node[anchor=east,inner sep=0pt,font=\bfseries\fontsize{4.6}{4.6}\selectfont] (c5sum) at (106,155.3) {\$000.00};
  \node[tlb=4.4] (c5ad) at (4.3,176.7) {Shipping address};
  \draw[pale,line width=.4pt] (4,183) rectangle (111,202.7) (4,202.7) rectangle (111,216);
  \node[tlb=3.2] (c5nm) at (11,190.3) {Name};
  \node[tl=3.2] (c5ad2) at (11,196) {Address};
  \node[tl=3.4] (c5in) at (11,209.7) {Add delivery instructions};
  \node[tlb=4.4] (c5pay) at (4.3,223.7) {Payment information};
  \draw[pale,line width=.4pt] (4,230) rectangle (111,244.3) (4,244.3) rectangle (111,257.7);
  \node[tlb=3.2] (c5pw) at (11,237.3) {Paying with};
  \node[tl=3.4] (c5in2) at (11,251.3) {Add delivery instructions};
  \foreach \y in {193,209.7,237.3,251.3} \draw[icon] (101.5,\y-1.5) -- (103,\y) -- (101.5,\y+1.5);
  \fill[ink] (37.7,262.5) rectangle (78.3,263.5);
\end{scope}

\begin{scope}[shift={(3377,753)}]
  \fill[white] (0,0) rectangle (116,251);
  \fill[pale] (0,8) rectangle (116,35);
  \node[tc=2.6] (c6time) at (6,3.8) {12:30};
  \pic (c6st) at (100,3.8) {statusmarks};
  \fill[white] (6,17.7) rectangle (109,30);
  \draw[icon] (12,23.5) circle (1.4pt);
  \node[tl=3.6,text=dim] (c6find) at (18.5,24) {Search};
  \fill[ink] (93,24) circle (3.2pt);
  \draw[icon] (103,21.5) -- (103,26.5);
  \fill[ink] (9,45) circle (2.6pt);
  \node[tlb=5.4] (c6okay) at (14.7,45) {Order placed, thanks!};
  \node[tl=3.2] (c6conf) at (6.3,52.7) {Confirmation will be sent to your email.};
  \fill[pale] (0,58.6) rectangle (116,59.8);
  \node[tlb=3] (c6sh) at (6.3,66) {Shipping to Adress};
  \draw[rule,line width=.7pt] (6,76) -- (84,76);
  \node[tl=3] (c6to) at (6.3,82.7) {Tomorrow, Date};
  \node[tl=3] (c6es) at (6.3,87.3) {Estimated delivery};
  \draw[dim,fill=pale,line width=.4pt] (88.3,65) rectangle (106.3,89);
  \node[tl=3] (c6sv) at (6.3,96.7) {You saved \$0.00 in shipping fees on this order with Prime.};
  \node[tl=3] (c6re) at (6.3,110.3) {Review or edit your recent orders};
  \fill[pale] (0,116.7) rectangle (116,118);
  \node[tc=3] (c6fo) at (18,123.3) {For you};
  \node[tc=3] (c6ba) at (50,123.3) {Buy again};
  \fill[pale] (0,128.8) rectangle (116,129.3);
  \fill[dim] (6,128.5) rectangle (30,129.5);
  \node[tlb=3.2] (c6tp) at (6.3,136.7) {Top picks for you};
  \foreach \x [count=\i] in {13.3,63.3} {
    \draw[dim,fill=white,line width=.4pt] (\x,150.3) rectangle (\x+42,206.7);
    \fill[pale] (\x+2,161.7) rectangle (\x+40,205);
    \node[tcb=2.7] (c6pi\i) at (\x+21,156.3) {Product Image};
  }
  \draw[pale,line width=.4pt] (0,227.7) -- (116,227.7);
  \pic (c6ic) at (-.7,-3.7) {tabicons};
  \fill[ink] (37.3,248.2) rectangle (78.7,249.2);
\end{scope}

% connector ends
\foreach \n/\p in {s1out/{102,257},s2in/{470,246},s2out/{513,267},s3in/{885,228},s3play/{905,215},
  s5top/{1873,118},s3dot/{1125.7,225},s4in/{1488,209},s4yes/{1579,247},s3back/{1008.7,318},
  s5out/{2113,204},s6in/{2225,204},s5use/{2094.6,298},p1in/{385,830},s9cancel/{3588,243},s5back/{1972,312},
  s7note/{2742.7,232},s8back/{3247.6,216.7},s8out/{3272,209},s9in/{3544,209},
  p1out/{410,848},p2in/{626.7,691.7},p2out/{646.6,745.7},p3in/{863,750.7},p3out/{938.5,772.7},p4in/{1126.7,818},
  p2top/{680,640},p4back/{1115,670},p5back/{1358,669},p6back/{1590,669},p7back/{1819,670},p8back/{2049,670},
  p4out/{1203,756.7},p5in/{1357.6,756.7},p5out/{1401,800},p6in/{1588.8,712},p6out/{1671,834.4},p7in/{1811.7,834.4},
  p7out/{1921,867.7},p8in/{2049,747},p8out/{2167.8,715},p9in/{2277.4,715},p9out/{2304,810},p2side/{737,791.7},
  p6cart/{1617.9,818},c1in/{2541.7,860.7},c1back/{2545,768},p6under/{1640.8,903.6},c6home/{3388,996.7},p9under/{2364,907},
  c5can/{3216.7,774},c1top/{2566.3,746},c3can/{2882.6,775},c1top2/{2599.5,744},c2can/{2713,767},c1side/{2663,767},
  c3back/{2885,785},c2side/{2826.5,785},c4can/{3051,775},c3side/{2992,775},c1go/{2639,833},c2in/{2710.7,833},
  c2step/{2749.5,789},c3in/{2876.5,804},c2go/{2812,845.7},c3in2/{2877.5,845.7},c3step/{2944,794},c4in/{3043,799},
  c3go/{2969,895.7},c4in2/{3036.7,895.7},c4step/{3145.7,785.7},c4go/{3150,812.7},c5in/{3221.7,812.7},c5go/{3317,826},c6in/{3377,826}}
  \coordinate (\n end) at (\p);

% connectors
\draw[flow] (s1outend) |- (419,352) |- (s2inend);
\draw[flow] (s2outend) |- (837,352) |- (s3inend);
\draw[thinflow,line width=2.5pt] (s3playend) |- (1873,40.7) -- (s5topend);
\draw[wedgeflow] (s3dotend) |- (1437,341) |- (s4inend);
\draw[flow] (s4yesend) |- (1008.7,379) -- (s3backend);
\draw[flow] (s5outend) -- (s6inend);
\draw[thinflow] (s5useend) |- (385,455) -- (p1inend);
\draw[thinflow] (s9cancelend) |- (1972,386) -- (s5backend);
\draw[flow] (s7noteend) |- (3247.6,341.7) -- (s8backend);
\draw[flow] (s8outend) -- (s9inend);

\draw[flow] (p1outend) |- (598.7,942) |- (p2inend);
\draw[flow] (p2outend) |- (835,942) |- (p3inend);
\draw[flow] (p3outend) -| (1060,818) -- (p4inend);
\draw[flow] (680,497) -- (p2topend);
\draw[wire] (p4backend) -| (1027,608) -- (680,608);
\draw[wire] (p5backend) -| (1284.7,573) -- (680,573);
\draw[wire] (p6backend) -| (1529.6,548) -- (680,548);
\draw[wire] (p7backend) -| (1754,522.7) -- (680,522.7);
\draw[wire] (p8backend) -| (1985.6,497.4) -- (678.5,497.4);
\draw[flow] (p4outend) -- (p5inend);
\draw[flow] (p5outend) -| (1522.4,712) -- (p6inend);
\draw[flow] (p6outend) -- (p7inend);
\draw[flow] (p7outend) -| (2004.5,747) -- (p8inend);
\draw[flow] (p8outend) -- (p9inend);
\draw[flow] (p9outend) |- (785,974) |- (p2sideend);
\draw[flow] (p6cartend) -| (1559,1039.5) -| (2504.5,860.7) -- (c1inend);
\draw[flow] (c1backend) -| (2486.6,1020) -| (p6underend);
\draw[flow] (c6homeend) |- (2364,1063.3) -- (p9underend);

\draw[line width=1.6pt,-{Straight Barb[length=8pt,width=14pt]}] (c5canend) -| (3192,663) -- (2566.3,660.7) -- (c1topend);
\draw[flow] (c3canend) -| (2848,719) -| (c1top2end);
\draw[flow] (c2canend) -- (c1sideend);
\draw[flow] (c3backend) -- (c2sideend);
\draw[flow] (c4canend) -- (c3sideend);
\draw[flow] (c1goend) -- (c2inend);
\draw[flow] (c2stepend) |- (c3inend);
\draw[flow] (c2goend) -- (c3in2end);
\draw[flow] (c3stepend) |- (c4inend);
\draw[flow] (c3goend) -- (c4in2end);
\draw[wire] (c4stepend) -| (3177,812.7);
\draw[flow] (c4goend) -- (c5inend);
\draw[flow] (c5goend) -- (c6inend);
\end{tikzpicture}
\end{document}
